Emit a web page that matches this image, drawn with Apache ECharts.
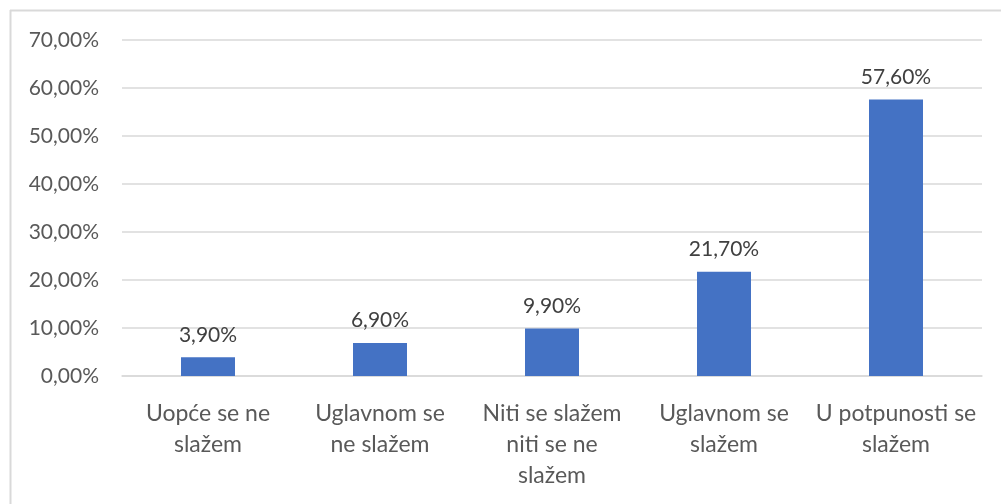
<!DOCTYPE html>
<html>
<head>
<meta charset="utf-8">
<script src="https://cdn.jsdelivr.net/npm/echarts@6/dist/echarts.min.js"></script>
<style>
    html, body { margin: 0; padding: 0; background: #fff; }
    #chart { width: 1001px; height: 504px; }
</style>
</head>
<body>
<div id="chart"></div>
<script>
// odgovori na skali slaganja
var categories = [
    'Uopće se ne\nslažem',
    'Uglavnom se\nne slažem',
    'Niti se slažem\nniti se ne\nslažem',
    'Uglavnom se\nslažem',
    'U potpunosti se\nslažem'
];
var percentages = [3.9, 6.9, 9.9, 21.7, 57.6];
var yTicks = [0, 10, 20, 30, 40, 50, 60, 70];

function formatPercent(v) {
    return v.toFixed(2).replace('.', ',') + '%';
}

var fontName = 'Lato, "Liberation Sans", sans-serif';

echarts.init(document.querySelector('#chart')).setOption({
    animation: false,
    textStyle: { fontFamily: fontName },
    graphic: [
        // rub okvira grafikona (gore i lijevo)
        { type: 'line', shape: { x1: 10, y1: 10.5, x2: 1001, y2: 10.5 }, style: { stroke: '#d9d9d9', lineWidth: 2 } },
        { type: 'line', shape: { x1: 10.5, y1: 10, x2: 10.5, y2: 504 }, style: { stroke: '#d9d9d9', lineWidth: 2 } }
    ],
    grid: { left: 122, right: 19, top: 40, bottom: 128 },
    xAxis: {
        type: 'category',
        data: categories,
        axisLine: { lineStyle: { color: '#d9d9d9', width: 1.5 } },
        axisTick: { show: false },
        axisLabel: {
            interval: 0,
            color: '#595959',
            fontSize: 23,
            lineHeight: 31,
            margin: 22,
            fontFamily: fontName
        }
    },
    yAxis: {
        type: 'value',
        min: yTicks[0],
        max: yTicks[yTicks.length - 1],
        interval: 10,
        axisLine: { show: false },
        axisTick: { show: false },
        splitLine: { lineStyle: { color: '#d9d9d9', width: 1.5 } },
        axisLabel: {
            color: '#595959',
            fontSize: 21,
            margin: 23,
            fontFamily: fontName,
            formatter: function (v) { return formatPercent(v); }
        }
    },
    series: [{
        type: 'bar',
        data: percentages,
        barWidth: 54,
        itemStyle: { color: '#4472c4' },
        label: {
            show: true,
            position: 'top',
            distance: 12,
            color: '#404040',
            fontSize: 21,
            fontFamily: fontName,
            formatter: function (p) { return formatPercent(p.value); }
        }
    }]
});
</script>
</body>
</html>
